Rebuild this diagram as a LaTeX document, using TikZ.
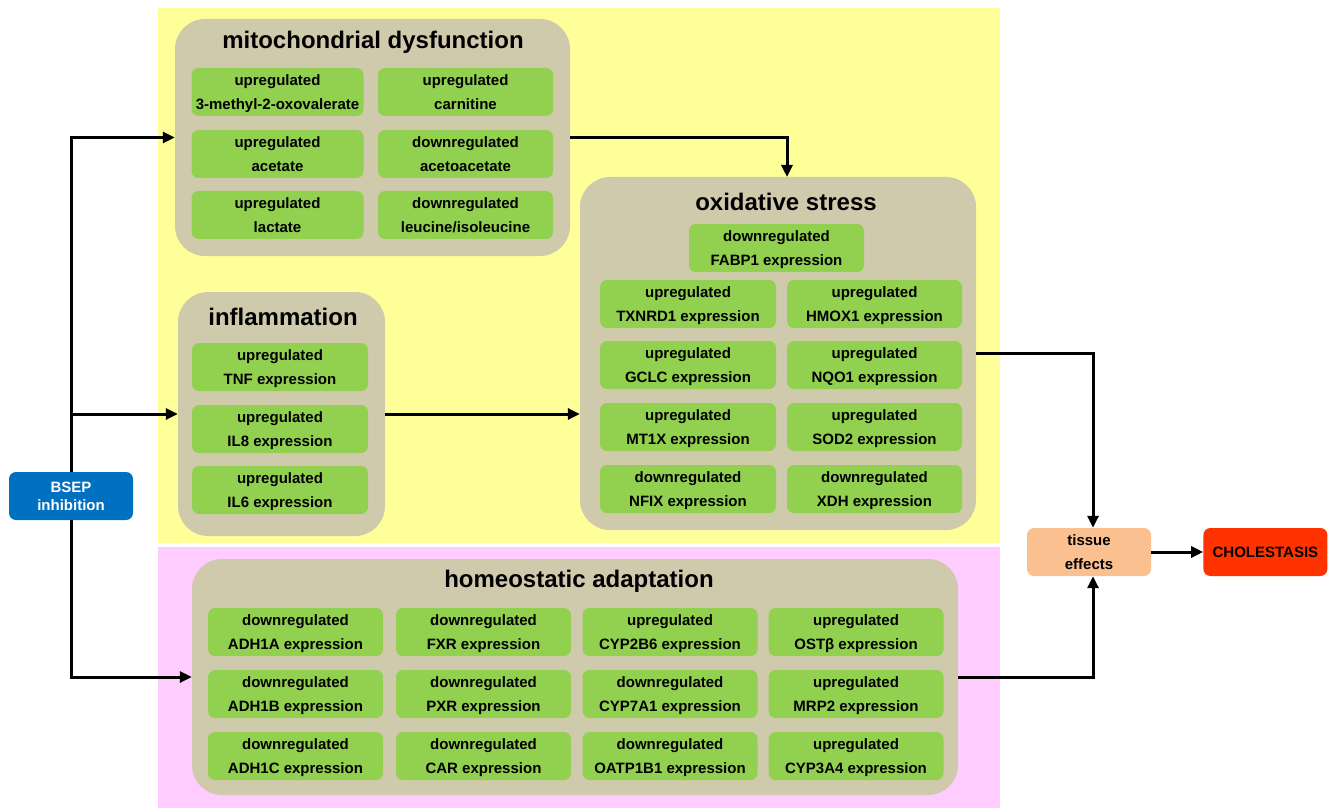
\documentclass[tikz,border=0pt]{standalone}
\usepackage{fontspec}
\setmainfont{Liberation Sans}
\usepackage{tikz}
\usetikzlibrary{positioning,arrows.meta}
\definecolor{bgyellow}{HTML}{FFFF99}
\definecolor{bgpink}{HTML}{FFCCFF}
\definecolor{grptan}{HTML}{D0CAAD}
\definecolor{itemgreen}{HTML}{92D050}
\definecolor{bsepblue}{HTML}{0070C0}
\definecolor{tissueorange}{HTML}{FAC090}
\definecolor{cholred}{HTML}{FF3300}

\begin{document}
\begin{tikzpicture}[x=1pt,y=-1pt,
  grp/.style={fill=grptan,rounded corners=30pt,inner sep=0pt},
  item/.style={fill=itemgreen,rounded corners=7pt,inner sep=0pt,
               minimum width=175pt,minimum height=48pt,align=center,
               font=\fontsize{15}{24}\selectfont\bfseries,text depth=-3pt},
  grptitle/.style={inner sep=0pt,font=\fontsize{24}{28}\selectfont\bfseries},
  endbox/.style={rounded corners=7pt,inner sep=0pt,minimum width=124pt,
                 minimum height=48pt,align=center},
  arr/.style={-{Triangle[length=12pt,width=11pt]},line width=3pt}]
\useasboundingbox (0,0) rectangle (1337,810);
% background bands
\fill[bgyellow] (158,8) rectangle (1000,543);
\fill[bgpink] (158,547) rectangle (1000,808);

% mitochondrial dysfunction
\node[grp,minimum width=395pt,minimum height=237pt] (mito) at (372.5,137.5) {};
\node[grptitle] (mitotitle) at (373,42) {mitochondrial dysfunction};
\node[item,minimum width=172pt] (m1) at (277.5,92) {upregulated\\3-methyl-2-oxovalerate};
\node[item] (m2) at (465.5,92) {upregulated\\carnitine};
\node[item,minimum width=172pt] (m3) at (277.5,154) {upregulated\\acetate};
\node[item] (m4) at (465.5,154) {downregulated\\acetoacetate};
\node[item,minimum width=172pt] (m5) at (277.5,215) {upregulated\\lactate};
\node[item] (m6) at (465.5,215) {downregulated\\leucine/isoleucine};

% inflammation
\node[grp,minimum width=207pt,minimum height=244pt] (infl) at (281.5,414) {};
\node[grptitle] (infltitle) at (283,317) {inflammation};
\node[item,minimum width=176pt] (i1) at (280,367) {upregulated\\TNF expression};
\node[item,minimum width=176pt] (i2) at (280,429) {upregulated\\IL8 expression};
\node[item,minimum width=176pt] (i3) at (280,490) {upregulated\\IL6 expression};

% oxidative stress
\node[grp,minimum width=396pt,minimum height=353pt] (oxid) at (778,353.5) {};
\node[grptitle] (oxidtitle) at (786,202) {oxidative stress};
\node[item] (o0) at (776.5,248) {downregulated\\FABP1 expression};
\node[item,minimum width=176pt] (o1) at (688,304) {upregulated\\TXNRD1 expression};
\node[item] (o2) at (874.5,304) {upregulated\\HMOX1 expression};
\node[item,minimum width=176pt] (o3) at (688,365) {upregulated\\GCLC expression};
\node[item] (o4) at (874.5,365) {upregulated\\NQO1 expression};
\node[item,minimum width=176pt] (o5) at (688,427) {upregulated\\MT1X expression};
\node[item] (o6) at (874.5,427) {upregulated\\SOD2 expression};
\node[item,minimum width=176pt] (o7) at (688,489) {downregulated\\NFIX expression};
\node[item] (o8) at (874.5,489) {downregulated\\XDH expression};
\coordinate (oxtop) at (787,177);

% homeostatic adaptation
\node[grp,minimum width=766pt,minimum height=236pt] (homeo) at (575,677) {};
\node[grptitle] (homeotitle) at (579,581) {homeostatic adaptation};
\node[item] (h11) at (295.5,632) {downregulated\\ADH1A expression};
\node[item] (h12) at (483.5,632) {downregulated\\FXR expression};
\node[item] (h13) at (670,632) {upregulated\\CYP2B6 expression};
\node[item] (h14) at (856,632) {upregulated\\OSTβ expression};
\node[item] (h21) at (295.5,694) {downregulated\\ADH1B expression};
\node[item] (h22) at (483.5,694) {downregulated\\PXR expression};
\node[item] (h23) at (670,694) {downregulated\\CYP7A1 expression};
\node[item] (h24) at (856,694) {upregulated\\MRP2 expression};
\node[item] (h31) at (295.5,756) {downregulated\\ADH1C expression};
\node[item] (h32) at (483.5,756) {downregulated\\CAR expression};
\node[item] (h33) at (670,756) {downregulated\\OATP1B1 expression};
\node[item] (h34) at (856,756) {upregulated\\CYP3A4 expression};

% start and end boxes
\node[endbox,fill=bsepblue,text=white,font=\fontsize{15}{18}\selectfont\bfseries]
  (bsep) at (71,496) {BSEP\\inhibition};
\node[endbox,fill=tissueorange,font=\fontsize{15}{24}\selectfont\bfseries]
  (tissue) at (1089,552) {tissue\\effects};
\node[endbox,fill=cholred,font=\fontsize{15}{18}\selectfont\bfseries,
  right=52pt of tissue] (chol) {CHOLESTASIS};
\coordinate (tistop) at ([xshift=4pt]tissue.north);
\coordinate (tisbot) at ([xshift=4pt]tissue.south);

% connectors
\draw[arr] (bsep.north) |- (mito.west);
\draw[arr] (bsep.north) |- (infl.west);
\draw[arr] (bsep.south) |- (homeo.west);
\draw[arr] (mito.east) -| (oxtop);
\draw[arr] (infl.east) -- (infl.east -| oxid.west);
\draw[arr] (oxid.east) -| (tistop);
\draw[arr] (homeo.east) -| (tisbot);
\draw[arr] (tissue) -- (chol);
\end{tikzpicture}
\end{document}
